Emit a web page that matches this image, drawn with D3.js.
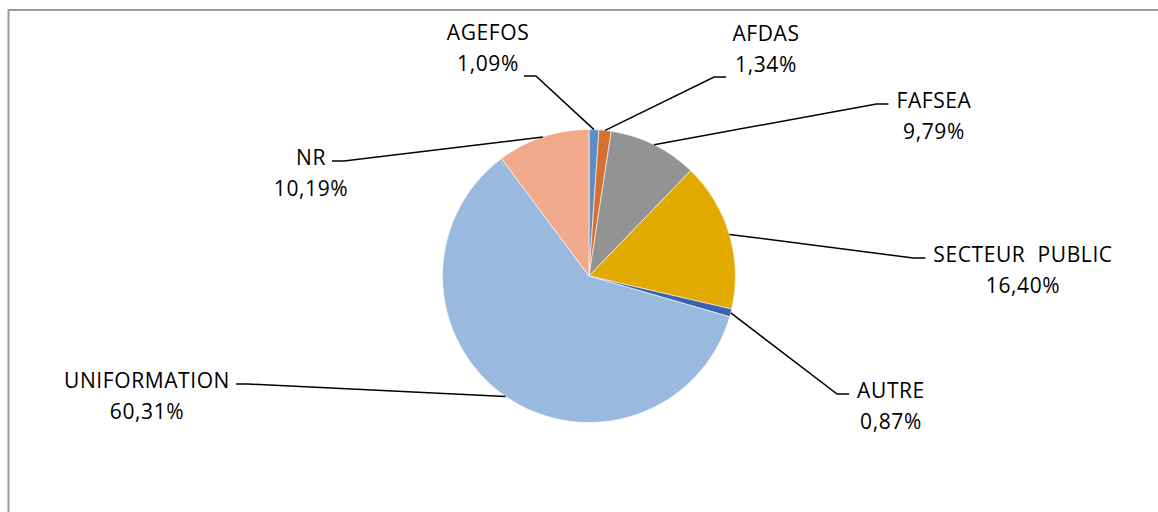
<!DOCTYPE html>
<html>
<head>
<meta charset="utf-8">
<script src="https://cdn.jsdelivr.net/npm/d3@7"></script>
<style>
  body { margin: 0; background: #fff; }
  svg text { font-family: "Open Sans", Lato, sans-serif; font-size: 21px; fill: #000; letter-spacing: 0.6px; }
</style>
</head>
<body>
<div id="Piechart"></div>
<script>
// data
var categories = ["AGEFOS", "AFDAS", "FAFSEA", "SECTEUR  PUBLIC", "AUTRE", "UNIFORMATION", "NR"];
var shares = [1.09, 1.34, 9.79, 16.40, 0.87, 60.31, 10.19];
var sliceColors = ["#5a90c8", "#d6702e", "#939393", "#e2aa00", "#3a63ae", "#99b9df", "#f0a98a"];

// where Excel put each label (centre of text, first baseline), relative to pie centre
var labelAt = [[-101, -236], [177, -235], [345, -168], [434, -14], [302, 122], [-442, 112], [-278, -111]];
// which side of the label the leader comes in from
var leaderSide = ["bottomRight", "bottomLeft", "left", "left", "left", "right", "right"];

var width = 1158, height = 512,
    cx = 589, cy = 276, radius = 146.5,
    lineGap = 31;

var svg = d3.select("#Piechart")
    .append("svg")
    .attr("width", width)
    .attr("height", height);

// chart frame (runs off the right and bottom edges)
svg.append("rect")
    .attr("x", 8.5).attr("y", 10)
    .attr("width", width + 20).attr("height", height + 20)
    .attr("fill", "none")
    .attr("stroke", "#999")
    .attr("stroke-width", 2);

var g = svg.append("g")
    .attr("transform", "translate(" + cx + "," + cy + ")");

var pie = d3.pie().sort(null).value(function (d) { return d; });
var arcs = pie(shares);

var arc = d3.arc().innerRadius(0).outerRadius(radius);

g.selectAll("path")
    .data(arcs)
    .enter()
    .append("path")
    .attr("d", arc)
    .attr("fill", function (d, i) { return sliceColors[i]; })
    .attr("stroke", "#fff")
    .attr("stroke-width", 0.6);

var fmt = function (v) { return v.toFixed(2).replace(".", ",") + "%"; };

// labels
var labels = g.selectAll("g.lbl")
    .data(arcs)
    .enter()
    .append("g")
    .attr("class", "lbl");

labels.append("text")
    .attr("class", "name")
    .attr("x", function (d, i) { return labelAt[i][0]; })
    .attr("y", function (d, i) { return labelAt[i][1]; })
    .attr("text-anchor", "middle")
    .style("white-space", "pre")
    .text(function (d, i) { return categories[i]; });

labels.append("text")
    .attr("class", "val")
    .attr("x", function (d, i) { return labelAt[i][0]; })
    .attr("y", function (d, i) { return labelAt[i][1] + lineGap; })
    .attr("text-anchor", "middle")
    .text(function (d) { return fmt(d.data); });

// leader lines: from the arc at mid angle to an elbow, then a short flat stub
labels.each(function (d, i) {
    var node = d3.select(this);
    var nameW = node.select(".name").node().getComputedTextLength();
    var valW = node.select(".val").node().getComputedTextLength();
    var lx = labelAt[i][0], ly = labelAt[i][1];
    var mid = (d.startAngle + d.endAngle) / 2;
    var p0 = [radius * Math.sin(mid), -radius * Math.cos(mid)];
    var stubEnd, elbow, stub = 12;
    if (leaderSide[i] === "left") {
        stubEnd = [lx - nameW / 2 - 8, ly - 4];
        elbow = [stubEnd[0] - stub, stubEnd[1]];
    } else if (leaderSide[i] === "right") {
        stubEnd = [lx + nameW / 2 + 6, ly - 4];
        elbow = [stubEnd[0] + stub, stubEnd[1]];
    } else if (leaderSide[i] === "bottomRight") {
        stubEnd = [lx + valW / 2 + 5, ly + lineGap + 5];
        elbow = [stubEnd[0] + stub, stubEnd[1]];
    } else {
        stubEnd = [lx - valW / 2 - 9, ly + lineGap + 5];
        elbow = [stubEnd[0] - stub, stubEnd[1]];
    }
    node.append("polyline")
        .attr("points", [p0, elbow, stubEnd].map(function (p) { return p.join(","); }).join(" "))
        .attr("fill", "none")
        .attr("stroke", "#000")
        .attr("stroke-width", 1.5);
});
</script>
</body>
</html>
